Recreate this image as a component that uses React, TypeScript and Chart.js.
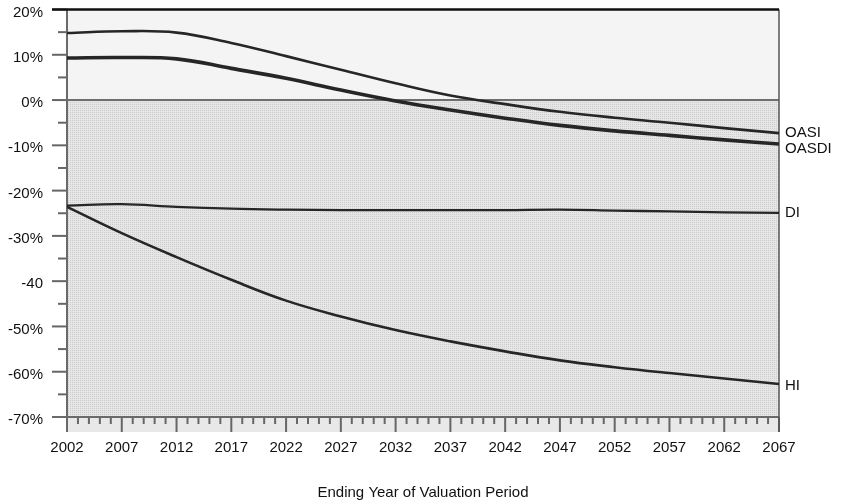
import React, { useEffect, useRef } from "react";
import { Chart, registerables } from "chart.js";

Chart.register(...registerables);

const years = [2002, 2007, 2012, 2017, 2022, 2027, 2032, 2037, 2042, 2047, 2052, 2057, 2062, 2067];
const oasi = [14.8, 15.2, 14.9, 12.6, 9.7, 6.7, 3.7, 1.0, -0.9, -2.6, -3.9, -5.0, -6.2, -7.3];
const oasdi = [9.3, 9.4, 9.1, 7.0, 4.8, 2.2, -0.2, -2.2, -4.0, -5.6, -6.8, -7.8, -8.8, -9.7];
const di = [-23.3, -23.0, -23.6, -24.0, -24.2, -24.3, -24.3, -24.3, -24.3, -24.2, -24.4, -24.6, -24.8, -24.9];
const hi = [-23.6, -29.4, -34.7, -39.7, -44.3, -47.8, -50.8, -53.3, -55.5, -57.5, -59.0, -60.3, -61.5, -62.7];
const seriesNames = ["OASI", "OASDI", "DI", "HI"];
const yTickValues = [20, 10, 0, -10, -20, -30, -40, -50, -60, -70];
const yTickLabels = ["20%", "10%", "0%", "-10%", "-20%", "-30%", "-40", "-50%", "-60%", "-70%"];
const xTitle = "Ending Year of Valuation Period";

const FONT_FAMILY = "'Liberation Sans', Arial, sans-serif";

function makePattern(): CanvasPattern | string {
  const pc = document.createElement("canvas");
  pc.width = 2;
  pc.height = 2;
  const p = pc.getContext("2d");
  if (!p) return "#dedede";
  p.fillStyle = "#e6e6e6";
  p.fillRect(0, 0, 2, 2);
  p.fillStyle = "#cdcdcd";
  p.fillRect(0, 0, 1, 1);
  const ctxPat = document.createElement("canvas").getContext("2d");
  return ctxPat ? (ctxPat.createPattern(pc, "repeat") as CanvasPattern) : "#dedede";
}

const backgroundPlugin = {
  id: "bgPlugin",
  beforeDraw(chart: any) {
    const { ctx, chartArea, scales } = chart;
    const { left, right, top, bottom } = chartArea;
    const y0 = scales.y.getPixelForValue(0);
    ctx.save();
    ctx.fillStyle = "#ffffff";
    ctx.fillRect(0, 0, chart.width, chart.height);
    ctx.fillStyle = "#f4f4f4";
    ctx.fillRect(left, top, right - left, y0 - top);
    ctx.fillStyle = makePattern();
    ctx.fillRect(left, y0, right - left, bottom - y0);
    ctx.fillStyle = "#e8e8e8";
    ctx.fillRect(left, bottom, right - left, 15);
    ctx.restore();
  },
  beforeDatasetsDraw(chart: any) {
    const { ctx, chartArea, scales } = chart;
    const { left, right, top, bottom } = chartArea;
    const x = scales.x;
    const y = scales.y;
    ctx.save();
    ctx.lineCap = "butt";
    const y0 = y.getPixelForValue(0);
    ctx.strokeStyle = "#6e6e6e";
    ctx.lineWidth = 2;
    ctx.beginPath();
    ctx.moveTo(left, y0);
    ctx.lineTo(right, y0);
    ctx.stroke();
    ctx.strokeStyle = "#666";
    ctx.lineWidth = 2;
    for (let v = -70; v <= 20; v += 5) {
      const py = y.getPixelForValue(v);
      const major = v % 10 === 0;
      ctx.beginPath();
      ctx.moveTo(left - (major ? 15 : 9), py);
      ctx.lineTo(left, py);
      ctx.stroke();
    }
    for (let yr = years[0]; yr <= years[years.length - 1]; yr++) {
      const px = x.getPixelForValue(yr);
      const major = (yr - years[0]) % 5 === 0;
      ctx.beginPath();
      ctx.moveTo(px, bottom);
      ctx.lineTo(px, bottom + (major ? 15 : 7));
      ctx.stroke();
    }
    ctx.strokeStyle = "#6a6a6a";
    ctx.lineWidth = 2;
    ctx.beginPath();
    ctx.moveTo(left - 15, bottom);
    ctx.lineTo(right, bottom);
    ctx.stroke();
    ctx.beginPath();
    ctx.moveTo(left, top);
    ctx.lineTo(left, bottom + 15);
    ctx.stroke();
    ctx.strokeStyle = "#555";
    ctx.lineWidth = 1.5;
    ctx.beginPath();
    ctx.moveTo(right, top);
    ctx.lineTo(right, bottom + 15);
    ctx.stroke();
    ctx.restore();
  },
  afterDatasetsDraw(chart: any) {
    const { ctx, chartArea } = chart;
    const { left, right, top } = chartArea;
    ctx.save();
    ctx.strokeStyle = "#111";
    ctx.lineWidth = 2.5;
    ctx.beginPath();
    ctx.moveTo(left - 15, top);
    ctx.lineTo(right, top);
    ctx.stroke();
    const offsets = [0, 5, 0, 2];
    ctx.fillStyle = "#111";
    ctx.font = `15px ${FONT_FAMILY}`;
    ctx.textAlign = "left";
    ctx.textBaseline = "middle";
    chart.data.datasets.forEach((ds: any, i: number) => {
      const meta = chart.getDatasetMeta(i);
      const last = meta.data[meta.data.length - 1];
      ctx.fillText(seriesNames[i], right + 6, last.y + offsets[i]);
    });
    ctx.restore();
  },
};

export default function App() {
  const canvasRef = useRef<HTMLCanvasElement | null>(null);

  useEffect(() => {
    if (!canvasRef.current) return;
    const toPts = (arr: number[]) => years.map((yr, i) => ({ x: yr, y: arr[i] }));
    const lineStyle = (w: number) => ({
      borderColor: "#262626",
      borderWidth: w,
      pointRadius: 0,
      fill: false,
      tension: 0.4,
    });
    const font = { family: FONT_FAMILY, size: 15 };
    const chart = new Chart(canvasRef.current, {
      type: "line",
      data: {
        datasets: [
          { label: seriesNames[0], data: toPts(oasi), ...lineStyle(2.6) },
          { label: seriesNames[1], data: toPts(oasdi), ...lineStyle(3.6) },
          { label: seriesNames[2], data: toPts(di), ...lineStyle(2.3) },
          { label: seriesNames[3], data: toPts(hi), ...lineStyle(2.6) },
        ],
      },
      options: {
        responsive: false,
        animation: false,
        layout: { padding: { left: 0, top: 9.5, right: 66, bottom: 0 } },
        plugins: {
          legend: { display: false },
          tooltip: { enabled: false },
        },
        scales: {
          x: {
            type: "linear",
            min: years[0],
            max: years[years.length - 1],
            ticks: {
              stepSize: 5,
              font,
              color: "#111",
              padding: 7,
              maxRotation: 0,
              autoSkip: false,
              callback: (v: any) => String(v),
            },
            grid: { display: true, drawOnChartArea: false, drawTicks: true, tickLength: 15, color: "rgba(0,0,0,0)" },
            border: { display: false },
            title: { display: true, text: xTitle, font, color: "#111", padding: { top: 4, bottom: 2 } },
            afterFit: (s: any) => {
              s.height = 87;
              s.paddingLeft = 0;
              s.paddingRight = 0;
            },
          },
          y: {
            type: "linear",
            min: -70,
            max: 20,
            ticks: {
              stepSize: 10,
              font,
              color: "#111",
              padding: 9,
              labelOffset: 3,
              autoSkip: false,
              callback: (v: any) => {
                const i = yTickValues.indexOf(Number(v));
                return i >= 0 ? yTickLabels[i] : "";
              },
            },
            grid: { display: true, drawOnChartArea: false, drawTicks: true, tickLength: 15, color: "rgba(0,0,0,0)" },
            border: { display: false },
            afterFit: (s: any) => {
              s.width = 67;
              s.paddingTop = 0;
              s.paddingBottom = 0;
            },
          },
        },
      },
      plugins: [backgroundPlugin],
    });
    return () => chart.destroy();
  }, []);

  return (
    <div style={{ position: "absolute", left: 0, top: 0, width: 845, height: 504, background: "#fff" }}>
      <canvas ref={canvasRef} width={845} height={504} style={{ display: "block" }} />
    </div>
  );
}
